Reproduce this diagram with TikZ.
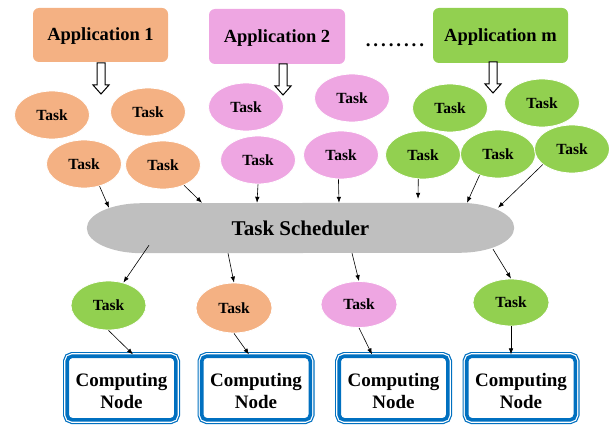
\documentclass[tikz,border=0pt]{standalone}
\usepackage{fontspec}
\setmainfont{Liberation Serif}
\usetikzlibrary{shapes.geometric,arrows.meta,backgrounds,calc}
\definecolor{apporange}{HTML}{F4B183}
\definecolor{apppink}{HTML}{EEA6E2}
\definecolor{appgreen}{HTML}{92D050}
\definecolor{schedgray}{HTML}{BFBFBF}
\definecolor{nodeblue}{HTML}{0070C0}
\begin{document}
\begin{tikzpicture}[x=1pt,y=-1pt,
  appbox/.style={rectangle, rounded corners=6pt, minimum width=135pt, minimum height=54pt, inner sep=0pt, font=\fontsize{18.5}{20}\selectfont\bfseries},
  task/.style={ellipse, draw=white, line width=0.8pt, minimum width=75pt, minimum height=48pt, inner sep=0pt, font=\fontsize{15.5}{17}\selectfont\bfseries},
  arr/.style={-{Latex[length=6pt,width=4.5pt]}, line width=0.6pt},
  cnode/.style={rectangle, rounded corners=5pt, minimum width=108.6pt, minimum height=63.6pt, inner sep=0pt, fill=white, draw=nodeblue, line width=3.6pt, preaction={draw=nodeblue, line width=8.4pt}, preaction={draw=white, line width=6pt}, align=center, font=\fontsize{19}{22}\selectfont\bfseries},
  hollowarrow/.pic={\draw[line width=1pt, fill=white] (-4,0) -- (-4,22) -- (-8,22) -- (0,31) -- (8,22) -- (4,22) -- (4,0) -- cycle;}
]
\useasboundingbox (0,0) rectangle (609,425);

% applications
\node[appbox, fill=apporange] (app1) at (100.5,35) {Application 1\rule{0pt}{15pt}};
\node[appbox, fill=apppink, minimum width=136pt, minimum height=55pt] (app2) at (277,36.5) {Application 2\rule{0pt}{15pt}};
\node[font=\fontsize{19}{20}\selectfont\bfseries, inner sep=0pt] (dots) at (395,45) {.\kern2.9pt.\kern2.9pt.\kern2.9pt.\kern2.9pt.\kern2.9pt.\kern2.9pt.\kern2.9pt.};
\node[appbox, fill=appgreen, minimum height=55pt] (appm) at (500.5,35.5) {Application m\rule{0pt}{15pt}};

\pic at (101,63) {hollowarrow};
\pic at (283,64) {hollowarrow};
\pic at (493,62) {hollowarrow};

% tasks of application 1
\node[task, fill=apporange] (t1a) at (52,115) {Task};
\node[task, fill=apporange] (t1b) at (148,112) {Task};
\node[task, fill=apporange] (t1c) at (84,164) {Task};
\node[task, fill=apporange] (t1d) at (163,165) {Task};
% tasks of application 2
\node[task, fill=apppink] (t2a) at (246,107) {Task};
\node[task, fill=apppink] (t2b) at (258,160) {Task};
\node[task, fill=apppink] (t2c) at (352,98) {Task};
\node[task, fill=apppink] (t2d) at (341,155) {Task};
% tasks of application m
\node[task, fill=appgreen] (tma) at (450,108) {Task};
\node[task, fill=appgreen] (tmb) at (542,103) {Task};
\node[task, fill=appgreen] (tmc) at (423,155) {Task};
\node[task, fill=appgreen] (tmd) at (498,154) {Task};
\node[task, fill=appgreen] (tme) at (572,149) {Task};

% scheduler
\node[rectangle, minimum width=427pt, minimum height=50pt, inner sep=0pt, font=\fontsize{21}{23}\selectfont\bfseries] (sched) at (300.5,228) {Task Scheduler};
\begin{scope}[on background layer]
\fill[schedgray] ([xshift=-55pt]sched.north east) arc[start angle=90, end angle=-90, x radius=55pt, y radius=25pt]
  -- ([xshift=55pt]sched.south west) arc[start angle=-90, end angle=-270, x radius=55pt, y radius=25pt] -- cycle;
\end{scope}

% tasks to scheduler
\draw[arr] (t1c.-55) -- ([xshift=-191.5pt, yshift=-5pt]sched.north);
\draw[arr] (t1d.-44) -- ([xshift=-98.5pt]sched.north);
\draw[arr] (t2b.south) -- ([xshift=-43.5pt]sched.north);
\draw[arr] (t2d.-96) -- ([xshift=38.5pt]sched.north);
\draw[arr] (tmc.-101) -- ([xshift=117.5pt, yshift=4pt]sched.north);
\draw[arr] (tmd.-131) -- ([xshift=166.5pt]sched.north);
\draw[arr] (tme.-152) -- ([xshift=197.5pt, yshift=-5pt]sched.north);

% scheduled tasks
\node[task, fill=appgreen, minimum height=49pt] (b1) at (108.5,305.5) {Task};
\node[task, fill=apporange, minimum width=76pt, minimum height=50pt] (b2) at (234,308) {Task};
\node[task, fill=apppink, minimum width=76pt, minimum height=46pt] (b3) at (359,304.5) {Task};
\node[task, fill=appgreen, minimum width=76pt, minimum height=47pt] (b4) at (511,302.5) {Task};

\draw[arr] ([xshift=-151.5pt, yshift=8pt]sched.south) -- (b1.57);
\draw[arr] ([xshift=-72.5pt]sched.south) -- (b2.north);
\draw[arr] ([xshift=51.5pt]sched.south) -- (b3.north);
\draw[arr] ([xshift=192.5pt, yshift=4pt]sched.south) -- (b4.north);

% computing nodes
\node[cnode] (cn1) at (121.5,388) {Computing\rule{0pt}{19pt}\\Node};
\node[cnode] (cn2) at (256,388) {Computing\rule{0pt}{19pt}\\Node};
\node[cnode] (cn3) at (393.5,388) {Computing\rule{0pt}{19pt}\\Node};
\node[cnode] (cn4) at (521,388) {Computing\rule{0pt}{19pt}\\Node};

\draw[arr] (b1.south) -- ([xshift=11.5pt]cn1.north);
\draw[arr] (b2.south) -- ([xshift=-7pt]cn2.north);
\draw[arr] (b3.south) -- ([xshift=-21.5pt]cn3.north);
\draw[arr] (b4.south) -- ([xshift=-10pt]cn4.north);
\end{tikzpicture}
\end{document}
